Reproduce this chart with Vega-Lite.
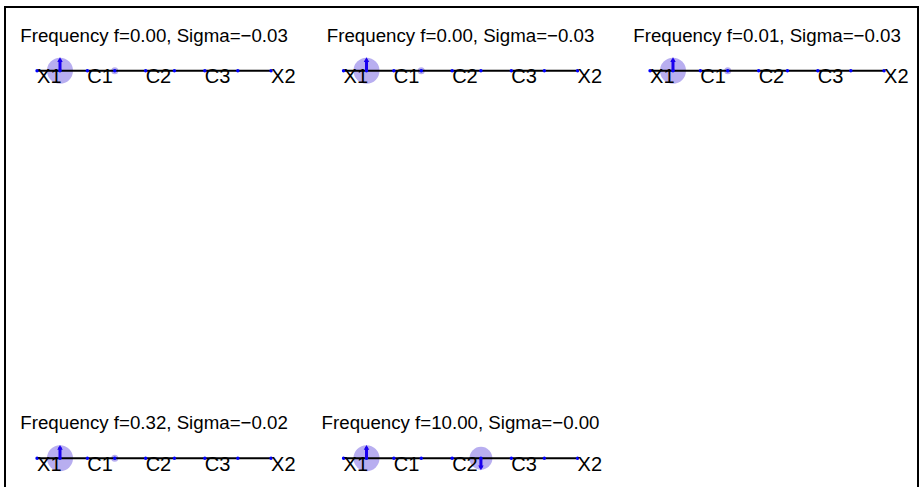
{
  "$schema": "https://vega.github.io/schema/vega-lite/v6.json",
  "width": 913,
  "height": 490,
  "autosize": "none",
  "padding": {"left": 5, "top": 7, "right": 2, "bottom": -10},
  "background": "#ffffff",
  "config": {"view": {"stroke": "#000000", "strokeWidth": 2}, "font": "Liberation Sans"},
  "datasets": {
    "panels": [
      {"p": 1, "col": 0, "row": 0, "title": "Frequency f=0.00, Sigma=−0.03"},
      {"p": 2, "col": 1, "row": 0, "title": "Frequency f=0.00, Sigma=−0.03"},
      {"p": 3, "col": 2, "row": 0, "title": "Frequency f=0.01, Sigma=−0.03"},
      {"p": 4, "col": 0, "row": 1, "title": "Frequency f=0.32, Sigma=−0.02"},
      {"p": 5, "col": 1, "row": 1, "title": "Frequency f=10.00, Sigma=−0.00"}
    ],
    "nodes": [
      {"p": 1, "col": 0, "row": 0, "node": "X1", "label": "X1", "pos": 0, "mag": 0},
      {"p": 1, "col": 0, "row": 0, "node": "G1", "label": "", "pos": 0.098, "mag": 1.0},
      {"p": 1, "col": 0, "row": 0, "node": "C1", "label": "C1", "pos": 0.215, "mag": 0},
      {"p": 1, "col": 0, "row": 0, "node": "G2", "label": "", "pos": 0.332, "mag": 0.27},
      {"p": 1, "col": 0, "row": 0, "node": "C2", "label": "C2", "pos": 0.464, "mag": 0},
      {"p": 1, "col": 0, "row": 0, "node": "G3", "label": "", "pos": 0.587, "mag": 0},
      {"p": 1, "col": 0, "row": 0, "node": "C3", "label": "C3", "pos": 0.717, "mag": 0},
      {"p": 1, "col": 0, "row": 0, "node": "G4", "label": "", "pos": 0.858, "mag": 0},
      {"p": 1, "col": 0, "row": 0, "node": "X2", "label": "X2", "pos": 1.0, "mag": 0},
      {"p": 2, "col": 1, "row": 0, "node": "X1", "label": "X1", "pos": 0, "mag": 0},
      {"p": 2, "col": 1, "row": 0, "node": "G1", "label": "", "pos": 0.098, "mag": 1.0},
      {"p": 2, "col": 1, "row": 0, "node": "C1", "label": "C1", "pos": 0.215, "mag": 0},
      {"p": 2, "col": 1, "row": 0, "node": "G2", "label": "", "pos": 0.332, "mag": 0.27},
      {"p": 2, "col": 1, "row": 0, "node": "C2", "label": "C2", "pos": 0.464, "mag": 0},
      {"p": 2, "col": 1, "row": 0, "node": "G3", "label": "", "pos": 0.587, "mag": 0},
      {"p": 2, "col": 1, "row": 0, "node": "C3", "label": "C3", "pos": 0.717, "mag": 0},
      {"p": 2, "col": 1, "row": 0, "node": "G4", "label": "", "pos": 0.858, "mag": 0},
      {"p": 2, "col": 1, "row": 0, "node": "X2", "label": "X2", "pos": 1.0, "mag": 0},
      {"p": 3, "col": 2, "row": 0, "node": "X1", "label": "X1", "pos": 0, "mag": 0},
      {"p": 3, "col": 2, "row": 0, "node": "G1", "label": "", "pos": 0.098, "mag": 1.0},
      {"p": 3, "col": 2, "row": 0, "node": "C1", "label": "C1", "pos": 0.215, "mag": 0},
      {"p": 3, "col": 2, "row": 0, "node": "G2", "label": "", "pos": 0.332, "mag": 0.27},
      {"p": 3, "col": 2, "row": 0, "node": "C2", "label": "C2", "pos": 0.464, "mag": 0},
      {"p": 3, "col": 2, "row": 0, "node": "G3", "label": "", "pos": 0.587, "mag": 0},
      {"p": 3, "col": 2, "row": 0, "node": "C3", "label": "C3", "pos": 0.717, "mag": 0},
      {"p": 3, "col": 2, "row": 0, "node": "G4", "label": "", "pos": 0.858, "mag": 0},
      {"p": 3, "col": 2, "row": 0, "node": "X2", "label": "X2", "pos": 1.0, "mag": 0},
      {"p": 4, "col": 0, "row": 1, "node": "X1", "label": "X1", "pos": 0, "mag": 0},
      {"p": 4, "col": 0, "row": 1, "node": "G1", "label": "", "pos": 0.098, "mag": 1.0},
      {"p": 4, "col": 0, "row": 1, "node": "C1", "label": "C1", "pos": 0.215, "mag": 0},
      {"p": 4, "col": 0, "row": 1, "node": "G2", "label": "", "pos": 0.332, "mag": 0.27},
      {"p": 4, "col": 0, "row": 1, "node": "C2", "label": "C2", "pos": 0.464, "mag": 0},
      {"p": 4, "col": 0, "row": 1, "node": "G3", "label": "", "pos": 0.587, "mag": 0},
      {"p": 4, "col": 0, "row": 1, "node": "C3", "label": "C3", "pos": 0.717, "mag": 0},
      {"p": 4, "col": 0, "row": 1, "node": "G4", "label": "", "pos": 0.858, "mag": 0},
      {"p": 4, "col": 0, "row": 1, "node": "X2", "label": "X2", "pos": 1.0, "mag": 0},
      {"p": 5, "col": 1, "row": 1, "node": "X1", "label": "X1", "pos": 0, "mag": 0},
      {"p": 5, "col": 1, "row": 1, "node": "G1", "label": "", "pos": 0.098, "mag": 1.0},
      {"p": 5, "col": 1, "row": 1, "node": "C1", "label": "C1", "pos": 0.215, "mag": 0},
      {"p": 5, "col": 1, "row": 1, "node": "G2", "label": "", "pos": 0.332, "mag": 0},
      {"p": 5, "col": 1, "row": 1, "node": "C2", "label": "C2", "pos": 0.464, "mag": 0},
      {"p": 5, "col": 1, "row": 1, "node": "G3", "label": "", "pos": 0.587, "mag": 0.88},
      {"p": 5, "col": 1, "row": 1, "node": "C3", "label": "C3", "pos": 0.717, "mag": 0},
      {"p": 5, "col": 1, "row": 1, "node": "G4", "label": "", "pos": 0.858, "mag": 0},
      {"p": 5, "col": 1, "row": 1, "node": "X2", "label": "X2", "pos": 1.0, "mag": 0}
    ],
    "arrows": [
      {"aid": "1G1", "col": 0, "row": 0, "pos": 0.098, "v": 0, "end": "base", "dir": "up"},
      {"aid": "1G1", "col": 0, "row": 0, "pos": 0.098, "v": 1.0, "end": "tip", "dir": "up"},
      {"aid": "2G1", "col": 1, "row": 0, "pos": 0.098, "v": 0, "end": "base", "dir": "up"},
      {"aid": "2G1", "col": 1, "row": 0, "pos": 0.098, "v": 1.0, "end": "tip", "dir": "up"},
      {"aid": "3G1", "col": 2, "row": 0, "pos": 0.098, "v": 0, "end": "base", "dir": "up"},
      {"aid": "3G1", "col": 2, "row": 0, "pos": 0.098, "v": 1.0, "end": "tip", "dir": "up"},
      {"aid": "4G1", "col": 0, "row": 1, "pos": 0.098, "v": 0, "end": "base", "dir": "up"},
      {"aid": "4G1", "col": 0, "row": 1, "pos": 0.098, "v": 1.0, "end": "tip", "dir": "up"},
      {"aid": "5G1", "col": 1, "row": 1, "pos": 0.098, "v": 0, "end": "base", "dir": "up"},
      {"aid": "5G1", "col": 1, "row": 1, "pos": 0.098, "v": 1.0, "end": "tip", "dir": "up"},
      {"aid": "5G3", "col": 1, "row": 1, "pos": 0.587, "v": 0, "end": "base", "dir": "down"},
      {"aid": "5G3", "col": 1, "row": 1, "pos": 0.587, "v": -0.88, "end": "tip", "dir": "down"}
    ]
  },
  "encoding": {
    "x": {"field": "col", "type": "ordinal", "axis": null, "scale": {"type": "band", "domain": [0, 1, 2], "paddingInner": 0.0212, "paddingOuter": 0}},
    "y": {"field": "row", "type": "ordinal", "axis": null, "scale": {"type": "band", "domain": [0, 1], "paddingInner": 0.7358, "paddingOuter": 0}}
  },
  "layer": [
    {
      "data": {"name": "nodes"},
      "transform": [{"filter": "datum.mag > 0.05"}],
      "mark": {"type": "point", "filled": true, "shape": "circle", "color": "#b8aef0", "opacity": 1, "strokeWidth": 0},
      "encoding": {
        "xOffset": {"field": "pos", "type": "quantitative", "scale": {"domain": [-0.137, 1.145], "zero": false, "nice": false}},
        "yOffset": {"datum": 0, "type": "quantitative", "scale": {"domain": [-3.52, 5.79], "zero": false, "nice": false, "reverse": true}},
        "size": {"field": "mag", "type": "quantitative", "legend": null, "scale": {"type": "pow", "exponent": 2, "domain": [0, 1], "range": [0, 676]}}
      }
    },
    {
      "data": {"name": "nodes"},
      "mark": {"type": "line", "color": "#000000", "strokeWidth": 2},
      "encoding": {
        "xOffset": {"field": "pos", "type": "quantitative", "scale": {"domain": [-0.137, 1.145], "zero": false, "nice": false}},
        "yOffset": {"datum": 0, "type": "quantitative", "scale": {"domain": [-3.52, 5.79], "zero": false, "nice": false, "reverse": true}},
        "detail": {"field": "p"},
        "order": {"field": "pos", "type": "quantitative"}
      }
    },
    {
      "data": {"name": "nodes"},
      "mark": {"type": "point", "filled": true, "shape": "circle", "color": "#0000ff", "opacity": 1, "size": 12},
      "encoding": {
        "xOffset": {"field": "pos", "type": "quantitative", "scale": {"domain": [-0.137, 1.145], "zero": false, "nice": false}},
        "yOffset": {"datum": 0, "type": "quantitative", "scale": {"domain": [-3.52, 5.79], "zero": false, "nice": false, "reverse": true}}
      }
    },
    {
      "data": {"name": "arrows"},
      "mark": {"type": "line", "color": "#1a00ee", "strokeWidth": 3},
      "encoding": {
        "xOffset": {"field": "pos", "type": "quantitative", "scale": {"domain": [-0.137, 1.145], "zero": false, "nice": false}},
        "yOffset": {"field": "v", "type": "quantitative", "scale": {"domain": [-3.52, 5.79], "zero": false, "nice": false, "reverse": true}},
        "detail": {"field": "aid"},
        "order": {"field": "v", "type": "quantitative"}
      }
    },
    {
      "data": {"name": "arrows"},
      "transform": [{"filter": "datum.end == 'tip'"}],
      "mark": {"type": "point", "filled": true, "color": "#1a00ee", "opacity": 1, "size": 30},
      "encoding": {
        "xOffset": {"field": "pos", "type": "quantitative", "scale": {"domain": [-0.137, 1.145], "zero": false, "nice": false}},
        "yOffset": {"field": "v", "type": "quantitative", "scale": {"domain": [-3.52, 5.79], "zero": false, "nice": false, "reverse": true}},
        "shape": {"field": "dir", "type": "nominal", "legend": null, "scale": {"domain": ["up", "down"], "range": ["triangle-up", "triangle-down"]}}
      }
    },
    {
      "data": {"name": "nodes"},
      "transform": [{"filter": "datum.label != ''"}],
      "mark": {"type": "text", "align": "left", "baseline": "alphabetic", "dy": 12.8, "fontSize": 20, "color": "#000000", "font": "Liberation Sans"},
      "encoding": {
        "xOffset": {"field": "pos", "type": "quantitative", "scale": {"domain": [-0.137, 1.145], "zero": false, "nice": false}},
        "yOffset": {"datum": 0, "type": "quantitative", "scale": {"domain": [-3.52, 5.79], "zero": false, "nice": false, "reverse": true}},
        "text": {"field": "label"}
      }
    },
    {
      "data": {"name": "panels"},
      "mark": {"type": "text", "align": "center", "baseline": "alphabetic", "fontSize": 18.7, "color": "#000000", "font": "Liberation Sans"},
      "encoding": {
        "xOffset": {"datum": 0.5, "type": "quantitative", "scale": {"domain": [-0.137, 1.145], "zero": false, "nice": false}},
        "yOffset": {"datum": 2.64, "type": "quantitative", "scale": {"domain": [-3.52, 5.79], "zero": false, "nice": false, "reverse": true}},
        "text": {"field": "title"}
      }
    }
  ]
}
